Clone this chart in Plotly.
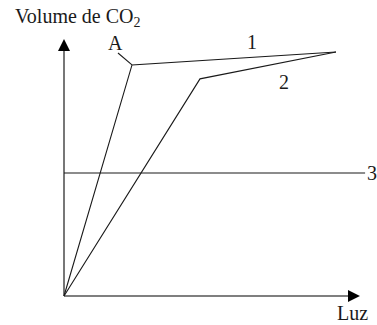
import plotly.graph_objects as go

FONT = "Liberation Serif, Times New Roman, serif"
INK = "#1a1a1a"
AXIS = "#555555"

# curve 1 (A), curve 2, line 3 — light (x) vs CO2 volume (y)
curva1_x = [0, 2.5, 10]
curva1_y = [0, 9.47, 10]
curva2_x = [0, 5.0, 10]
curva2_y = [0, 8.9, 10]
linha3_x = [0, 11.07]
linha3_y = [5.04, 5.04]

W, H = 377, 325
OX, OY = 64, 296          # origin in px
SX, SY = 27.2, 24.4       # px per unit
XR = [-OX / SX, (W - OX) / SX]
YR = [-(H - OY) / SY, OY / SY]

fig = go.Figure()

# axis lines
fig.add_trace(go.Scatter(x=[0, 0], y=[0, 10.1], mode="lines",
                         line=dict(color=AXIS, width=1.6), hoverinfo="skip"))
fig.add_trace(go.Scatter(x=[0, 10.5], y=[0, 0], mode="lines",
                         line=dict(color=AXIS, width=1.6), hoverinfo="skip"))

for xs, ys in [(curva1_x, curva1_y), (curva2_x, curva2_y), (linha3_x, linha3_y)]:
    fig.add_trace(go.Scatter(x=xs, y=ys, mode="lines",
                             line=dict(color=INK, width=1.1), hoverinfo="skip"))

# leader line for label A
fig.add_trace(go.Scatter(x=[1.985, 2.5], y=[9.96, 9.47], mode="lines",
                         line=dict(color=INK, width=1.1), hoverinfo="skip"))

# arrow heads (filled triangles at the axis ends)
hw_x, hw_y = 6 / SX, 6 / SY
fig.add_shape(type="path", xref="x", yref="y", fillcolor="black", line=dict(width=0),
              path=f"M {-hw_x} 10.04 L {hw_x} 10.04 L 0 10.53 Z")
fig.add_shape(type="path", xref="x", yref="y", fillcolor="black", line=dict(width=0),
              path=f"M 10.44 {-hw_y} L 10.44 {hw_y} L 10.88 0 Z")

labels = [
    ("Volume de CO<sub>2</sub>", -1.875, 11.43, "left"),
    ("A", 1.91, 10.37, "center"),
    ("1", 6.91, 10.41, "center"),
    ("2", 8.09, 8.77, "center"),
    ("3", 11.32, 5.04, "center"),
    ("Luz", 10.62, -0.70, "center"),
]
for txt, x, y, anc in labels:
    fig.add_annotation(x=x, y=y, text=txt, showarrow=False, xanchor=anc, yanchor="middle",
                       font=dict(family=FONT, size=20, color=INK))

fig.update_layout(
    width=W, height=H,
    margin=dict(l=0, r=0, t=0, b=0),
    paper_bgcolor="white", plot_bgcolor="white",
    showlegend=False,
    xaxis=dict(range=XR, visible=False, fixedrange=True),
    yaxis=dict(range=YR, visible=False, fixedrange=True),
)

# drop the browser's default 8px body margin so the figure fills the window
fig.write_html("out.html", config={"displayModeBar": False},
               post_script="document.body.style.margin='0';document.body.style.overflow='hidden';")
